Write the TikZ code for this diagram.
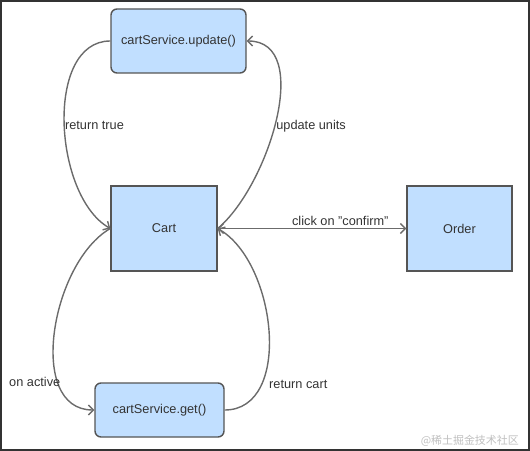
\documentclass[tikz,border=0pt]{standalone}
\usepackage{fontspec}
\setmainfont{Liberation Sans}
\newfontfamily\cjkfont{Noto Sans CJK SC}
\usetikzlibrary{arrows.meta}
\definecolor{boxfill}{HTML}{C1DFFF}
\definecolor{boxline}{HTML}{555555}
\definecolor{flowline}{HTML}{6B6B6B}
\definecolor{labeltext}{HTML}{333333}

\tikzset{
  statebox/.style={draw=boxline,fill=boxfill,line width=1.4bp,text=labeltext,inner sep=0pt},
  servicebox/.style={statebox,rounded corners=6bp},
  flow/.style={draw=flowline,line width=1.4bp,-{Straight Barb[length=5bp,width=10bp]}},
  flowlabel/.style={text=labeltext,inner sep=0pt,font=\fontsize{12.8}{15}\selectfont}
}

\begin{document}
\begin{tikzpicture}[x=1bp,y=-1bp,font=\fontsize{12.8}{15}\selectfont]
			\useasboundingbox (0,0) rectangle (530,451);
			\draw[line width=1.6bp,color=labeltext] (0.8,0.8) rectangle (529.2,450.2);

			\node[servicebox,minimum width=135bp,minimum height=64bp] (upd) at (178.5,41) {cartService.update()};
			\node[statebox,minimum width=106bp,minimum height=85bp] (cart) at (164,228.5) {Cart};
			\node[statebox,minimum width=105bp,minimum height=85bp] (order) at (459.5,228.5) {Order};
			\node[servicebox,minimum width=129bp,minimum height=54bp] (get) at (159.5,410) {cartService.get()};

			\draw[flow,{Straight Barb[length=5bp,width=10bp]}-{Straight Barb[length=5bp,width=10bp]}] (cart.east) -- node[flowlabel,pos=0.65,above=2bp] (lconfirm) {click on "confirm"} (order.west);
			\draw[flow] (upd.west) to[out=180,in=150,looseness=0.9] node[flowlabel,pos=0.51,anchor=west] (ltrue) {return true} (cart.west);
			\draw[flow] (cart.east) to[out=40,in=0,looseness=0.9] node[flowlabel,pos=0.47,anchor=west,xshift=1bp] (lunits) {update units} (upd.east);
			\draw[flow] (cart.west) to[out=210,in=180,looseness=0.96] node[flowlabel,pos=0.725,anchor=east,xshift=3bp] (lactive) {on active} (get.west);
			\draw[flow] (get.east) to[out=0,in=-30,looseness=0.96] node[flowlabel,pos=0.26,anchor=west,xshift=7bp] (lcart) {return cart} (cart.east);

			\node[anchor=east,text=black!25,inner sep=0pt,font=\cjkfont\fontsize{11}{13}\selectfont] (mark) at (519,441) {@稀土掘金技术社区};
		\end{tikzpicture}
\end{document}
